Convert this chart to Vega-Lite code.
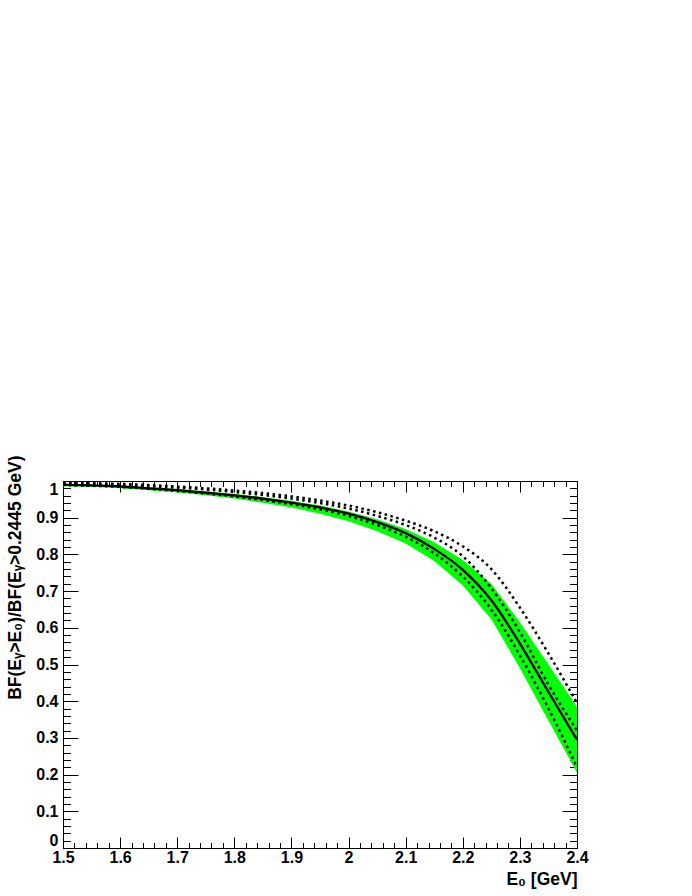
{
  "$schema": "https://vega.github.io/schema/vega-lite/v6.json",
  "width": 514,
  "height": 367,
  "autosize": {"type": "none"},
  "padding": {"left": 63, "top": 481, "right": 115, "bottom": 48},
  "background": "white",
  "config": {
    "view": {"stroke": "black", "strokeWidth": 1},
    "axis": {
      "domain": false, "grid": false, "tickColor": "black", "tickWidth": 1, "labelFlush": false,
      "labelFont": "Liberation Sans", "labelFontWeight": "bold", "labelFontSize": 16, "labelColor": "black",
      "titleFont": "Liberation Sans", "titleFontWeight": "bold", "titleFontSize": 17.5, "titleColor": "black"
    }
  },
  "datasets": {
    "band": [
      {"E": 1.50, "hi": 0.992, "lo": 0.986},
      {"E": 1.55, "hi": 0.990, "lo": 0.984},
      {"E": 1.60, "hi": 0.987, "lo": 0.980},
      {"E": 1.65, "hi": 0.983, "lo": 0.975},
      {"E": 1.70, "hi": 0.978, "lo": 0.969},
      {"E": 1.75, "hi": 0.972, "lo": 0.961},
      {"E": 1.80, "hi": 0.965, "lo": 0.952},
      {"E": 1.85, "hi": 0.956, "lo": 0.941},
      {"E": 1.90, "hi": 0.946, "lo": 0.928},
      {"E": 1.95, "hi": 0.933, "lo": 0.911},
      {"E": 2.00, "hi": 0.917, "lo": 0.890},
      {"E": 2.05, "hi": 0.896, "lo": 0.863},
      {"E": 2.10, "hi": 0.869, "lo": 0.830},
      {"E": 2.15, "hi": 0.833, "lo": 0.782},
      {"E": 2.20, "hi": 0.785, "lo": 0.715},
      {"E": 2.25, "hi": 0.720, "lo": 0.623},
      {"E": 2.30, "hi": 0.615, "lo": 0.490},
      {"E": 2.35, "hi": 0.500, "lo": 0.347},
      {"E": 2.40, "hi": 0.385, "lo": 0.205}
    ],
    "solid": [
      {"E": 1.50, "v": 0.990}, {"E": 1.55, "v": 0.988}, {"E": 1.60, "v": 0.985},
      {"E": 1.65, "v": 0.980}, {"E": 1.70, "v": 0.975}, {"E": 1.75, "v": 0.968},
      {"E": 1.80, "v": 0.961}, {"E": 1.85, "v": 0.952}, {"E": 1.90, "v": 0.941},
      {"E": 1.95, "v": 0.928}, {"E": 2.00, "v": 0.911}, {"E": 2.05, "v": 0.888},
      {"E": 2.10, "v": 0.858}, {"E": 2.15, "v": 0.815}, {"E": 2.20, "v": 0.758},
      {"E": 2.25, "v": 0.675}, {"E": 2.30, "v": 0.557}, {"E": 2.35, "v": 0.425},
      {"E": 2.40, "v": 0.295}
    ],
    "dotA": [
      {"E": 1.50, "v": 0.995}, {"E": 1.55, "v": 0.994}, {"E": 1.60, "v": 0.992},
      {"E": 1.65, "v": 0.989}, {"E": 1.70, "v": 0.985}, {"E": 1.75, "v": 0.980},
      {"E": 1.80, "v": 0.974}, {"E": 1.85, "v": 0.967}, {"E": 1.90, "v": 0.958},
      {"E": 1.95, "v": 0.947}, {"E": 2.00, "v": 0.933}, {"E": 2.05, "v": 0.915},
      {"E": 2.10, "v": 0.892}, {"E": 2.15, "v": 0.863}, {"E": 2.20, "v": 0.822},
      {"E": 2.25, "v": 0.760}, {"E": 2.30, "v": 0.655}, {"E": 2.35, "v": 0.530},
      {"E": 2.40, "v": 0.395}
    ],
    "dotBC": [
      {"E": 1.50, "v": 0.994, "curve": "B"}, {"E": 1.55, "v": 0.992, "curve": "B"},
      {"E": 1.60, "v": 0.990, "curve": "B"}, {"E": 1.65, "v": 0.986, "curve": "B"},
      {"E": 1.70, "v": 0.982, "curve": "B"}, {"E": 1.75, "v": 0.977, "curve": "B"},
      {"E": 1.80, "v": 0.970, "curve": "B"}, {"E": 1.85, "v": 0.962, "curve": "B"},
      {"E": 1.90, "v": 0.952, "curve": "B"}, {"E": 1.95, "v": 0.940, "curve": "B"},
      {"E": 2.00, "v": 0.925, "curve": "B"}, {"E": 2.05, "v": 0.905, "curve": "B"},
      {"E": 2.10, "v": 0.880, "curve": "B"}, {"E": 2.15, "v": 0.846, "curve": "B"},
      {"E": 2.20, "v": 0.795, "curve": "B"}, {"E": 2.25, "v": 0.708, "curve": "B"},
      {"E": 2.30, "v": 0.588, "curve": "B"}, {"E": 2.35, "v": 0.445, "curve": "B"},
      {"E": 2.40, "v": 0.320, "curve": "B"},
      {"E": 1.50, "v": 0.989, "curve": "C"}, {"E": 1.55, "v": 0.987, "curve": "C"},
      {"E": 1.60, "v": 0.984, "curve": "C"}, {"E": 1.65, "v": 0.979, "curve": "C"},
      {"E": 1.70, "v": 0.973, "curve": "C"}, {"E": 1.75, "v": 0.966, "curve": "C"},
      {"E": 1.80, "v": 0.958, "curve": "C"}, {"E": 1.85, "v": 0.948, "curve": "C"},
      {"E": 1.90, "v": 0.937, "curve": "C"}, {"E": 1.95, "v": 0.923, "curve": "C"},
      {"E": 2.00, "v": 0.905, "curve": "C"}, {"E": 2.05, "v": 0.880, "curve": "C"},
      {"E": 2.10, "v": 0.848, "curve": "C"}, {"E": 2.15, "v": 0.803, "curve": "C"},
      {"E": 2.20, "v": 0.740, "curve": "C"}, {"E": 2.25, "v": 0.650, "curve": "C"},
      {"E": 2.30, "v": 0.525, "curve": "C"}, {"E": 2.35, "v": 0.380, "curve": "C"},
      {"E": 2.40, "v": 0.220, "curve": "C"}
    ]
  },
  "resolve": {"axis": {"x": "independent", "y": "independent"}},
  "layer": [
    {
      "data": {"name": "band"},
      "mark": {"type": "area", "color": "#00ff00", "opacity": 1, "interpolate": "linear", "clip": true},
      "encoding": {
        "x": {
          "field": "E", "type": "quantitative",
          "scale": {"domain": [1.5, 2.4], "nice": false, "zero": false},
          "axis": {
            "orient": "bottom", "values": [1.5, 1.6, 1.7, 1.8, 1.9, 2, 2.1, 2.2, 2.3, 2.4],
            "format": ".1~f", "tickSize": -11, "labelPadding": 12,
            "title": "E₀ [GeV]", "titleX": 514, "titleY": 36, "titleAlign": "right", "titleBaseline": "alphabetic"
          }
        },
        "y": {
          "field": "hi", "type": "quantitative",
          "scale": {"domain": [0, 1], "nice": false, "zero": false},
          "axis": {
            "orient": "left", "values": [0, 0.1, 0.2, 0.3, 0.4, 0.5, 0.6, 0.7, 0.8, 0.9, 1],
            "format": ".1~f", "tickSize": -15, "labelPadding": 20, "labelFlush": true,
            "title": "BF(Eᵧ>E₀)/BF(Eᵧ>0.2445 GeV)", "titleX": -48, "titleY": -26,
            "titleAngle": 270, "titleAlign": "right", "titleBaseline": "middle"
          }
        },
        "y2": {"field": "lo"}
      }
    },
    {
      "data": {"name": "solid"},
      "mark": {"type": "line", "color": "black", "strokeWidth": 2.3, "interpolate": "monotone", "clip": true},
      "encoding": {
        "x": {
          "field": "E", "type": "quantitative",
          "scale": {"domain": [1.5, 2.4], "nice": false, "zero": false},
          "axis": {
            "orient": "bottom", "labels": false, "title": null, "tickSize": -5.5,
            "values": [1.5, 1.52, 1.54, 1.56, 1.58, 1.6, 1.62, 1.64, 1.66, 1.68, 1.7, 1.72, 1.74, 1.76, 1.78, 1.8, 1.82, 1.84, 1.86, 1.88, 1.9, 1.92, 1.94, 1.96, 1.98, 2, 2.02, 2.04, 2.06, 2.08, 2.1, 2.12, 2.14, 2.16, 2.18, 2.2, 2.22, 2.24, 2.26, 2.28, 2.3, 2.32, 2.34, 2.36, 2.38, 2.4]
          }
        },
        "y": {
          "field": "v", "type": "quantitative",
          "scale": {"domain": [0, 1], "nice": false, "zero": false},
          "axis": {
            "orient": "left", "labels": false, "title": null, "tickSize": -7.5,
            "values": [0, 0.02, 0.04, 0.06, 0.08, 0.1, 0.12, 0.14, 0.16, 0.18, 0.2, 0.22, 0.24, 0.26, 0.28, 0.3, 0.32, 0.34, 0.36, 0.38, 0.4, 0.42, 0.44, 0.46, 0.48, 0.5, 0.52, 0.54, 0.56, 0.58, 0.6, 0.62, 0.64, 0.66, 0.68, 0.7, 0.72, 0.74, 0.76, 0.78, 0.8, 0.82, 0.84, 0.86, 0.88, 0.9, 0.92, 0.94, 0.96, 0.98, 1]
          }
        }
      }
    },
    {
      "data": {"name": "dotA"},
      "mark": {"type": "line", "color": "black", "strokeWidth": 2.5, "strokeDash": [2.5, 3.5], "interpolate": "monotone", "clip": true},
      "encoding": {
        "x": {
          "field": "E", "type": "quantitative",
          "scale": {"domain": [1.5, 2.4], "nice": false, "zero": false},
          "axis": {
            "orient": "top", "labels": false, "title": null, "tickSize": -11,
            "values": [1.5, 1.6, 1.7, 1.8, 1.9, 2, 2.1, 2.2, 2.3, 2.4]
          }
        },
        "y": {
          "field": "v", "type": "quantitative",
          "scale": {"domain": [0, 1], "nice": false, "zero": false},
          "axis": {
            "orient": "right", "labels": false, "title": null, "tickSize": -15,
            "values": [0, 0.1, 0.2, 0.3, 0.4, 0.5, 0.6, 0.7, 0.8, 0.9, 1]
          }
        }
      }
    },
    {
      "data": {"name": "dotBC"},
      "mark": {"type": "line", "color": "black", "strokeWidth": 2.5, "strokeDash": [2.5, 3.5], "interpolate": "monotone", "clip": true},
      "encoding": {
        "detail": {"field": "curve", "type": "nominal"},
        "x": {
          "field": "E", "type": "quantitative",
          "scale": {"domain": [1.5, 2.4], "nice": false, "zero": false},
          "axis": {
            "orient": "top", "labels": false, "title": null, "tickSize": -5.5,
            "values": [1.5, 1.52, 1.54, 1.56, 1.58, 1.6, 1.62, 1.64, 1.66, 1.68, 1.7, 1.72, 1.74, 1.76, 1.78, 1.8, 1.82, 1.84, 1.86, 1.88, 1.9, 1.92, 1.94, 1.96, 1.98, 2, 2.02, 2.04, 2.06, 2.08, 2.1, 2.12, 2.14, 2.16, 2.18, 2.2, 2.22, 2.24, 2.26, 2.28, 2.3, 2.32, 2.34, 2.36, 2.38, 2.4]
          }
        },
        "y": {
          "field": "v", "type": "quantitative",
          "scale": {"domain": [0, 1], "nice": false, "zero": false},
          "axis": {
            "orient": "right", "labels": false, "title": null, "tickSize": -7.5,
            "values": [0, 0.02, 0.04, 0.06, 0.08, 0.1, 0.12, 0.14, 0.16, 0.18, 0.2, 0.22, 0.24, 0.26, 0.28, 0.3, 0.32, 0.34, 0.36, 0.38, 0.4, 0.42, 0.44, 0.46, 0.48, 0.5, 0.52, 0.54, 0.56, 0.58, 0.6, 0.62, 0.64, 0.66, 0.68, 0.7, 0.72, 0.74, 0.76, 0.78, 0.8, 0.82, 0.84, 0.86, 0.88, 0.9, 0.92, 0.94, 0.96, 0.98, 1]
          }
        }
      }
    }
  ]
}
